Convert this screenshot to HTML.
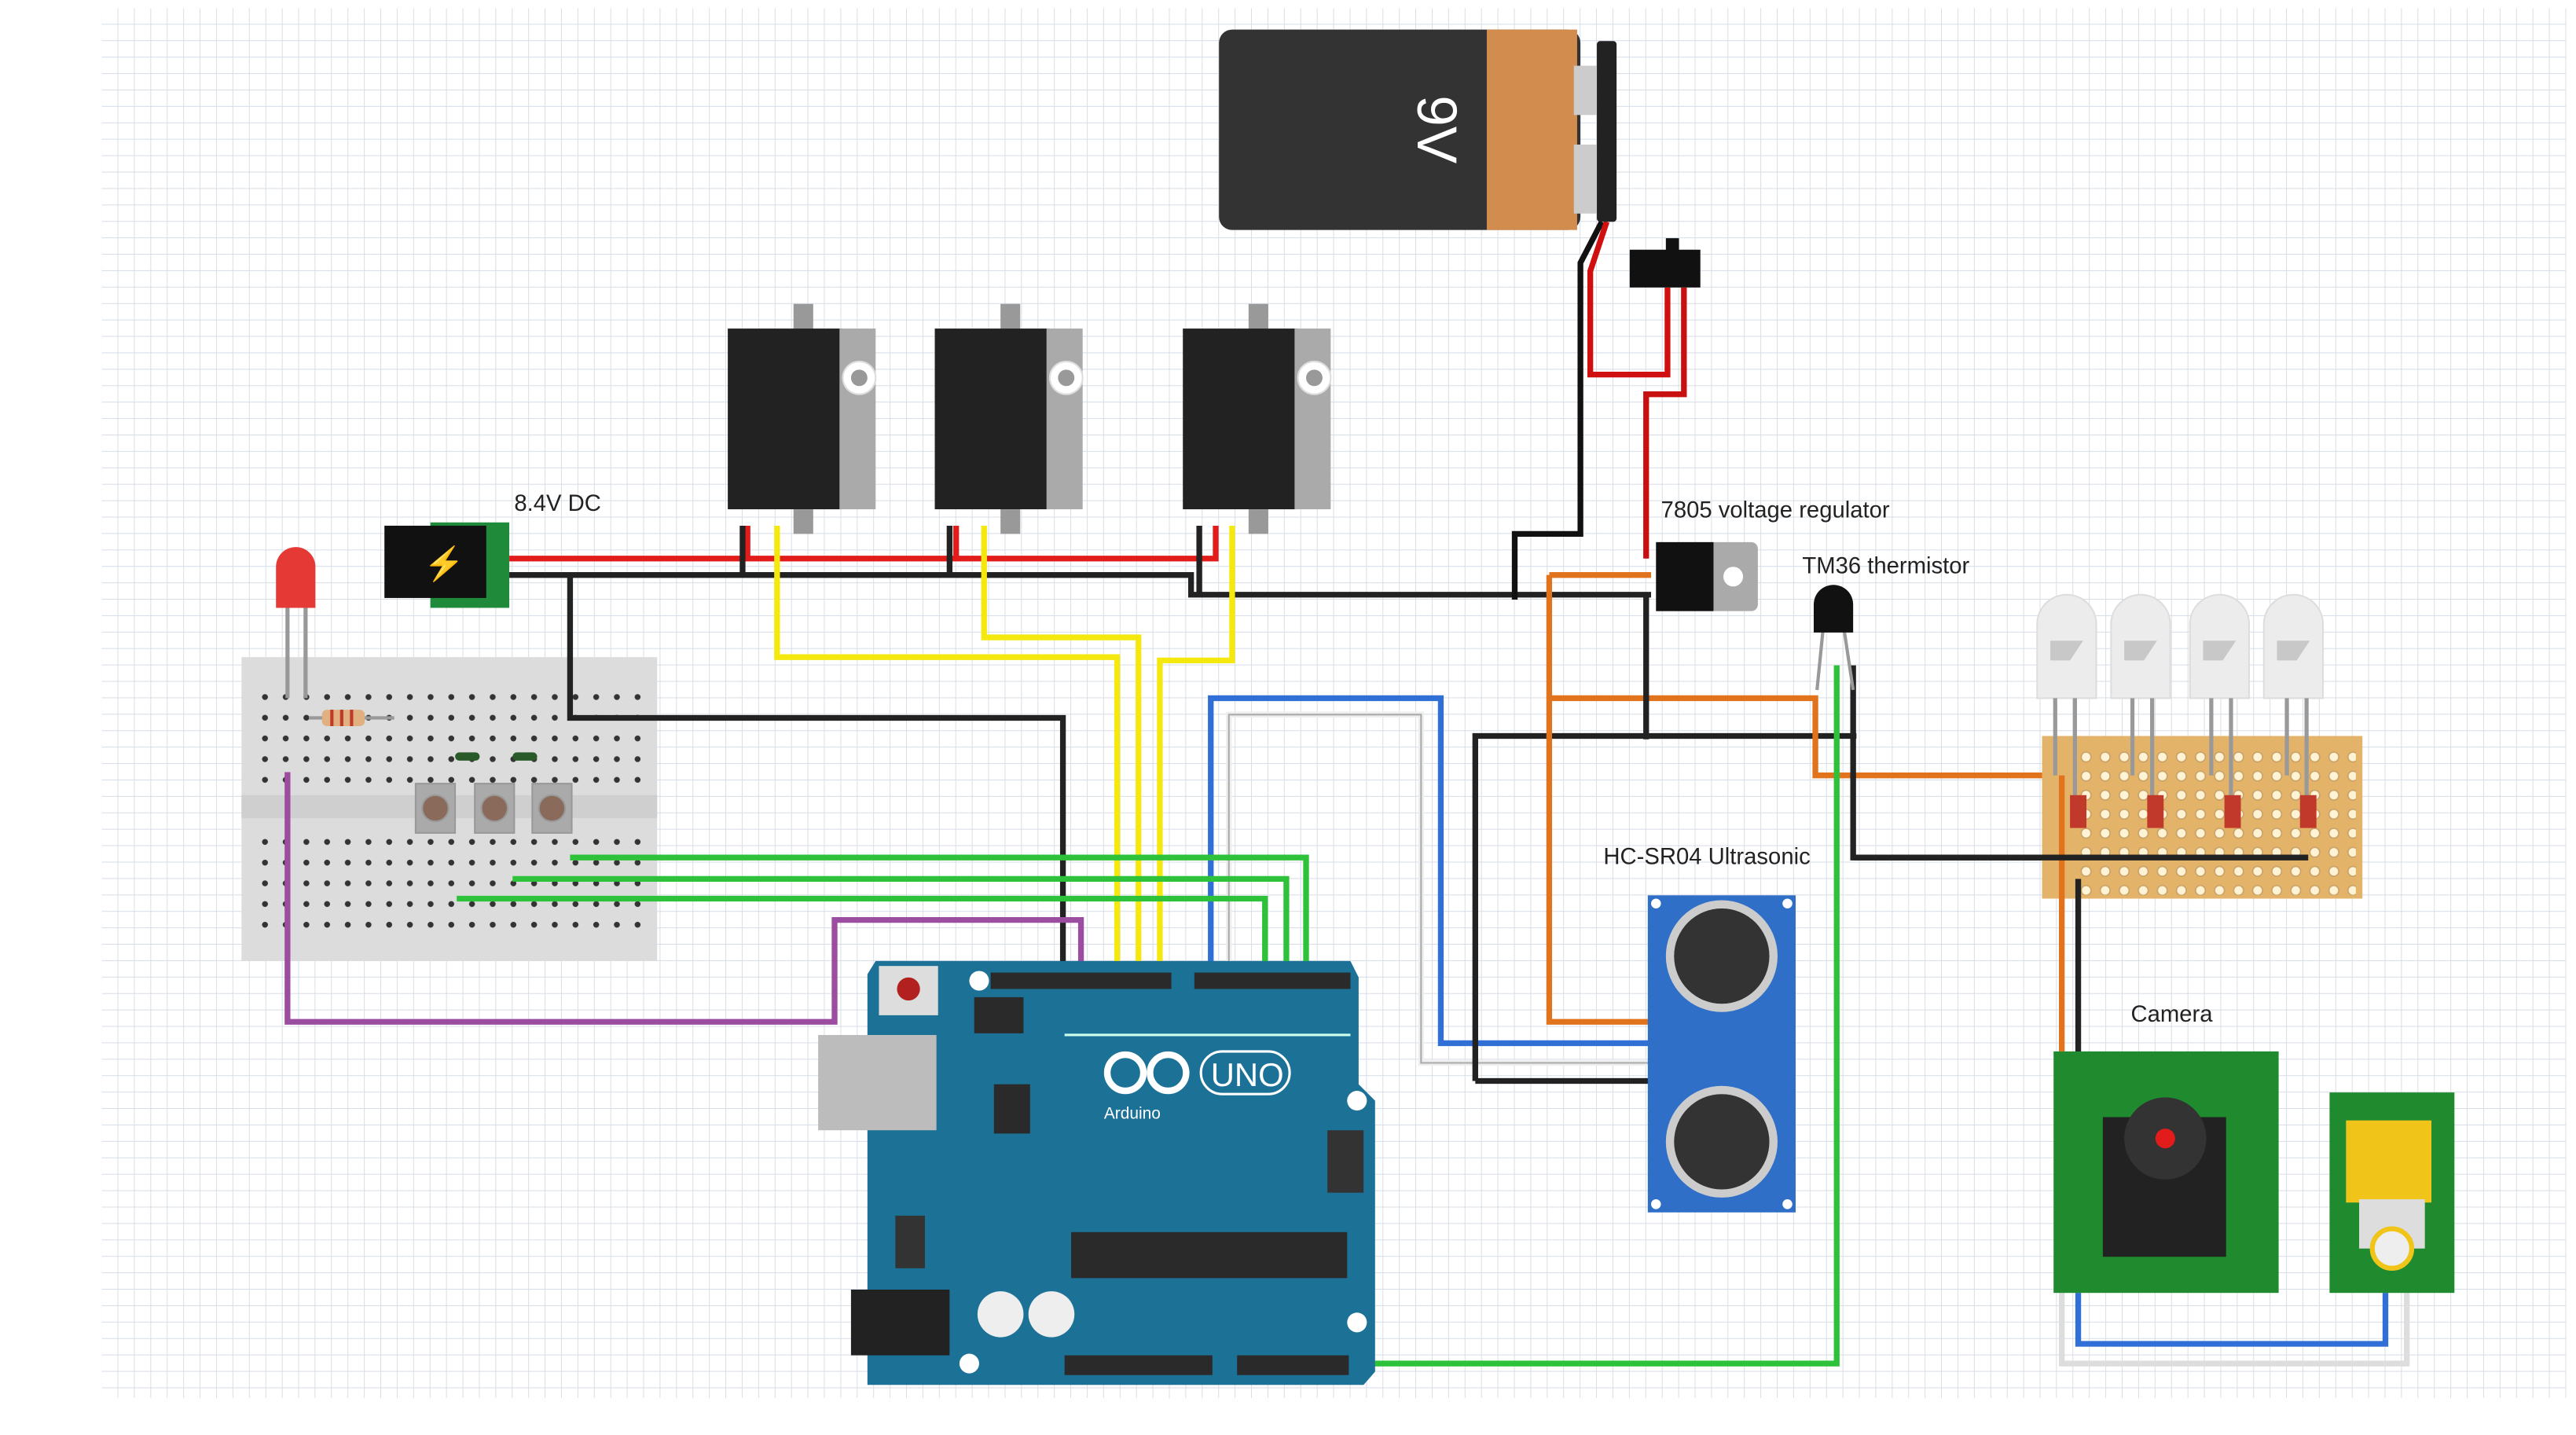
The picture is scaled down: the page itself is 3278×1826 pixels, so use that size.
<!DOCTYPE html>
<html><head><meta charset="utf-8"><style>
html,body{margin:0;padding:0;background:#fff;width:3278px;height:1826px;overflow:hidden}
svg{display:block}
text{font-family:"Liberation Sans",sans-serif}
</style></head><body>
<svg width="3278" height="1826" viewBox="0 0 1568 873.5" preserveAspectRatio="none" xmlns="http://www.w3.org/2000/svg">
<defs>
<pattern id="g" width="10" height="10" patternUnits="userSpaceOnUse" x="62" y="5">
<path d="M10 0V10M0 10H10" stroke="#d6dde6" stroke-width="0.9" fill="none"/>
</pattern>
<pattern id="bbd" width="12.6" height="12.6" patternUnits="userSpaceOnUse" x="155" y="418">
<circle cx="6.3" cy="6.3" r="1.8" fill="#333"/>
</pattern>
<pattern id="pfd" width="11.6" height="11.6" patternUnits="userSpaceOnUse" x="1264" y="455">
<circle cx="5.8" cy="5.8" r="3" fill="#fff3d6" stroke="#c9a266" stroke-width="0.8"/>
</pattern>
</defs>
<rect x="62" y="5" width="1500" height="846" fill="url(#g)"/>

<!-- breadboard -->
<rect x="147" y="400" width="253" height="185" fill="#dcdcdc"/>
<rect x="147" y="484" width="253" height="14" fill="#cfcfcf"/>
<rect x="155" y="418" width="235" height="63" fill="url(#bbd)"/>
<rect x="155" y="505" width="235" height="63" fill="url(#bbd)"/>
<g fill="#8a6a5a" stroke="#999" stroke-width="1">
<rect x="253" y="477" width="24" height="30" fill="#aaa"/><circle cx="265" cy="492" r="8"/>
<rect x="289" y="477" width="24" height="30" fill="#aaa"/><circle cx="301" cy="492" r="8"/>
<rect x="324" y="477" width="24" height="30" fill="#aaa"/><circle cx="336" cy="492" r="8"/>
</g>
<rect x="277" y="458" width="15" height="5" rx="2.5" fill="#2a5a2a"/>
<rect x="312" y="458" width="15" height="5" rx="2.5" fill="#2a5a2a"/>
<line x1="188" y1="437" x2="240" y2="437" stroke="#999" stroke-width="2"/>
<rect x="196" y="432" width="26" height="10" rx="3" fill="#e0b080"/>
<g stroke="#c0392b" stroke-width="2"><line x1="202" y1="432" x2="202" y2="442"/><line x1="208" y1="432" x2="208" y2="442"/><line x1="214" y1="432" x2="214" y2="442"/></g>

<!-- LED -->
<line x1="175" y1="365" x2="175" y2="425" stroke="#999" stroke-width="2.5"/>
<line x1="186" y1="365" x2="186" y2="425" stroke="#999" stroke-width="2.5"/>
<path d="M168 370V345a12 12 0 0 1 24 0V370Z" fill="#e53935"/>

<!-- DC jack -->
<rect x="262" y="318" width="48" height="52" fill="#1e8a3a"/>
<rect x="234" y="320" width="62" height="44" fill="#111"/>
<text x="258" y="350" font-size="20" fill="#f5c518">⚡</text>
<text x="313" y="311" font-size="14" fill="#222">8.4V DC</text>

<!-- wires -->
<g fill="none" stroke-width="3.5" stroke-linejoin="miter">
<path d="M310 340H740V320" stroke="#e21b1b"/>
<path d="M455 320V340M582 320V340" stroke="#e21b1b"/>
<path d="M310 350H725V362H1005" stroke="#222"/>
<path d="M452 320V350M578 320V350M730 320V362" stroke="#222"/>
<path d="M347 350V437H647V595" stroke="#222"/>
<path d="M473 320V400H680V595" stroke="#f5e80f"/>
<path d="M599 320V388H693V595" stroke="#f5e80f"/>
<path d="M750 320V402H706V595" stroke="#f5e80f"/>
<path d="M737 595V425H877V635H1005" stroke="#2f6fd6"/>
<path d="M748 595V435H865V647H1005" stroke="#eee"/>
<path d="M748 595V435H865V647H1005" stroke="#aaa" stroke-width="1"/>
<path d="M898 658V448H1130" stroke="#222"/>
<path d="M898 658H1005" stroke="#222"/>
<path d="M943 350H1005M943 350V622H1005" stroke="#e0731c"/>
<path d="M943 425H1105V472H1390" stroke="#e0731c"/>
<path d="M347 522H795V595" stroke="#2ec23a"/>
<path d="M312 535H783V595" stroke="#2ec23a"/>
<path d="M278 547H770V595" stroke="#2ec23a"/>
<path d="M175 470V622H508V560H658V595" stroke="#9b4da0"/>
<path d="M818 830H1118V405" stroke="#2ec23a"/>
<path d="M1128 405V522H1405" stroke="#222"/>
<path d="M975 135L962 160V325H922V365" stroke="#111"/>
<path d="M978 135L968 165V228H1015V175" stroke="#d01010"/>
<path d="M1025 175V240H1002V340" stroke="#c81010"/>
<path d="M1002 450V362" stroke="#222"/>
<path d="M1265 787V818H1452V787" stroke="#2f6fd6"/>
<path d="M1255 787V830H1465V787" stroke="#ddd"/>
</g>

<!-- servos -->
<g>
<g transform="translate(443,185)">
<rect x="40" y="0" width="12" height="18" fill="#999"/>
<rect x="0" y="15" width="70" height="110" fill="#222"/>
<rect x="68" y="15" width="22" height="110" fill="#aaa"/>
<circle cx="80" cy="45" r="10" fill="#fff" stroke="#ddd"/><circle cx="80" cy="45" r="5" fill="#999"/>
<rect x="40" y="125" width="12" height="15" fill="#999"/>
</g>
<g transform="translate(569,185)">
<rect x="40" y="0" width="12" height="18" fill="#999"/>
<rect x="0" y="15" width="70" height="110" fill="#222"/>
<rect x="68" y="15" width="22" height="110" fill="#aaa"/>
<circle cx="80" cy="45" r="10" fill="#fff" stroke="#ddd"/><circle cx="80" cy="45" r="5" fill="#999"/>
<rect x="40" y="125" width="12" height="15" fill="#999"/>
</g>
<g transform="translate(720,185)">
<rect x="40" y="0" width="12" height="18" fill="#999"/>
<rect x="0" y="15" width="70" height="110" fill="#222"/>
<rect x="68" y="15" width="22" height="110" fill="#aaa"/>
<circle cx="80" cy="45" r="10" fill="#fff" stroke="#ddd"/><circle cx="80" cy="45" r="5" fill="#999"/>
<rect x="40" y="125" width="12" height="15" fill="#999"/>
</g>
</g>

<!-- battery -->
<rect x="742" y="18" width="220" height="122" rx="8" fill="#333"/>
<rect x="905" y="18" width="55" height="122" fill="#d28d4e"/>
<rect x="958" y="40" width="14" height="30" fill="#ccc"/>
<rect x="958" y="88" width="14" height="42" fill="#ccc"/>
<rect x="972" y="25" width="12" height="110" rx="2" fill="#222"/>
<text x="0" y="0" font-size="34" fill="#fff" transform="translate(863,80) rotate(90) translate(-22,0)">9V</text>

<!-- switch -->
<rect x="992" y="152" width="43" height="23" fill="#111"/>
<rect x="1014" y="145" width="8" height="8" fill="#111"/>

<!-- regulator -->
<rect x="1040" y="330" width="30" height="42" rx="4" fill="#aaa"/>
<circle cx="1055" cy="351" r="6" fill="#fff"/>
<rect x="1008" y="330" width="35" height="42" fill="#111"/>
<text x="1011" y="315" font-size="14" fill="#222">7805 voltage regulator</text>

<!-- thermistor -->
<line x1="1110" y1="380" x2="1106" y2="420" stroke="#999" stroke-width="2"/>
<line x1="1122" y1="380" x2="1128" y2="420" stroke="#999" stroke-width="2"/>
<path d="M1104 385V368a12 12 0 0 1 24 0V385Z" fill="#111"/>
<text x="1097" y="349" font-size="14" fill="#222">TM36 thermistor</text>

<!-- HC-SR04 -->
<rect x="1003" y="545" width="90" height="193" fill="#2f6fc8"/>
<circle cx="1048" cy="582" r="34" fill="#ccc"/><circle cx="1048" cy="582" r="29" fill="#333"/>
<circle cx="1048" cy="695" r="34" fill="#ccc"/><circle cx="1048" cy="695" r="29" fill="#333"/>
<g fill="#fff"><circle cx="1008" cy="550" r="3"/><circle cx="1088" cy="550" r="3"/><circle cx="1008" cy="733" r="3"/><circle cx="1088" cy="733" r="3"/></g>
<text x="976" y="526" font-size="14" fill="#222">HC-SR04 Ultrasonic</text>

<!-- LEDs -->
<g fill="#ececec" stroke="#ddd">
<path d="M1240 425V380a18 18 0 0 1 36 0V425Z"/>
<path d="M1285 425V380a18 18 0 0 1 36 0V425Z"/>
<path d="M1333 425V380a18 18 0 0 1 36 0V425Z"/>
<path d="M1378 425V380a18 18 0 0 1 36 0V425Z"/>
</g>
<g fill="#c8c8c8"><path d="M1248 390h20l-8 12h-12z"/><path d="M1293 390h20l-8 12h-12z"/><path d="M1341 390h20l-8 12h-12z"/><path d="M1386 390h20l-8 12h-12z"/></g>
<!-- perfboard -->
<rect x="1243" y="448" width="195" height="99" fill="#e4b36a"/>
<rect x="1264" y="455" width="170" height="90" fill="url(#pfd)"/>
<g stroke="#999" stroke-width="2.5">
<line x1="1251" y1="425" x2="1251" y2="472"/><line x1="1263" y1="425" x2="1263" y2="500"/>
<line x1="1298" y1="425" x2="1298" y2="472"/><line x1="1310" y1="425" x2="1310" y2="500"/>
<line x1="1346" y1="425" x2="1346" y2="472"/><line x1="1358" y1="425" x2="1358" y2="500"/>
<line x1="1392" y1="425" x2="1392" y2="472"/><line x1="1404" y1="425" x2="1404" y2="500"/>
</g>
<g fill="#c0392b"><rect x="1260" y="484" width="10" height="20"/><rect x="1307" y="484" width="10" height="20"/><rect x="1354" y="484" width="10" height="20"/><rect x="1400" y="484" width="10" height="20"/></g>
<path d="M1255 472V640" stroke="#e0731c" stroke-width="3.5"/>
<path d="M1128 522H1405" stroke="#222" stroke-width="3.5"/>
<path d="M1265 535V645" stroke="#222" stroke-width="3.5"/>

<!-- camera -->
<rect x="1250" y="640" width="137" height="147" fill="#1f8a2e"/>
<rect x="1280" y="680" width="75" height="85" fill="#222"/>
<circle cx="1318" cy="693" r="25" fill="#333"/>
<circle cx="1318" cy="693" r="6" fill="#e21b1b"/>
<text x="1297" y="622" font-size="14" fill="#222">Camera</text>

<!-- RCA -->
<rect x="1418" y="665" width="76" height="122" fill="#1f8a2e"/>
<rect x="1428" y="682" width="52" height="50" fill="#f0c419"/>
<rect x="1436" y="730" width="40" height="30" fill="#ddd"/>
<circle cx="1456" cy="760" r="12" fill="#eee" stroke="#f0c419" stroke-width="3"/>

<!-- Arduino -->
<path d="M528 593L533 585H822L827 595V660L837 670V835L830 843H528Z" fill="#1c7196"/>
<rect x="498" y="630" width="72" height="58" fill="#bcbcbc"/>
<rect x="535" y="588" width="36" height="30" fill="#ddd"/>
<circle cx="553" cy="602" r="7" fill="#b32020"/>
<rect x="593" y="607" width="30" height="22" fill="#2a2a2a"/>
<rect x="603" y="592" width="110" height="10" fill="#2a2a2a"/>
<rect x="727" y="592" width="95" height="10" fill="#2a2a2a"/>
<rect x="648" y="825" width="90" height="12" fill="#2a2a2a"/>
<rect x="753" y="825" width="68" height="12" fill="#2a2a2a"/>
<rect x="652" y="750" width="168" height="28" fill="#2a2a2a"/>
<rect x="518" y="785" width="60" height="40" fill="#222"/>
<rect x="605" y="660" width="22" height="30" fill="#2a2a2a"/>
<rect x="545" y="740" width="18" height="32" fill="#333"/>
<rect x="808" y="688" width="22" height="38" fill="#333"/>
<circle cx="609" cy="800" r="14" fill="#eee"/><circle cx="640" cy="800" r="14" fill="#eee"/>
<g fill="#fff"><circle cx="596" cy="597" r="6"/><circle cx="826" cy="670" r="6"/><circle cx="826" cy="805" r="6"/><circle cx="590" cy="830" r="6"/></g>
<g fill="none" stroke="#fff" stroke-width="4"><circle cx="685" cy="653" r="11"/><circle cx="711" cy="653" r="11"/></g>
<rect x="731" y="640" width="54" height="26" rx="13" fill="none" stroke="#fff" stroke-width="1.5"/>
<text x="737" y="661" font-size="20" fill="#fff">UNO</text>
<text x="672" y="681" font-size="10" fill="#fff">Arduino</text>
<line x1="648" y1="630" x2="822" y2="630" stroke="#cfe" stroke-width="1.5"/>
</svg>
</body></html>
